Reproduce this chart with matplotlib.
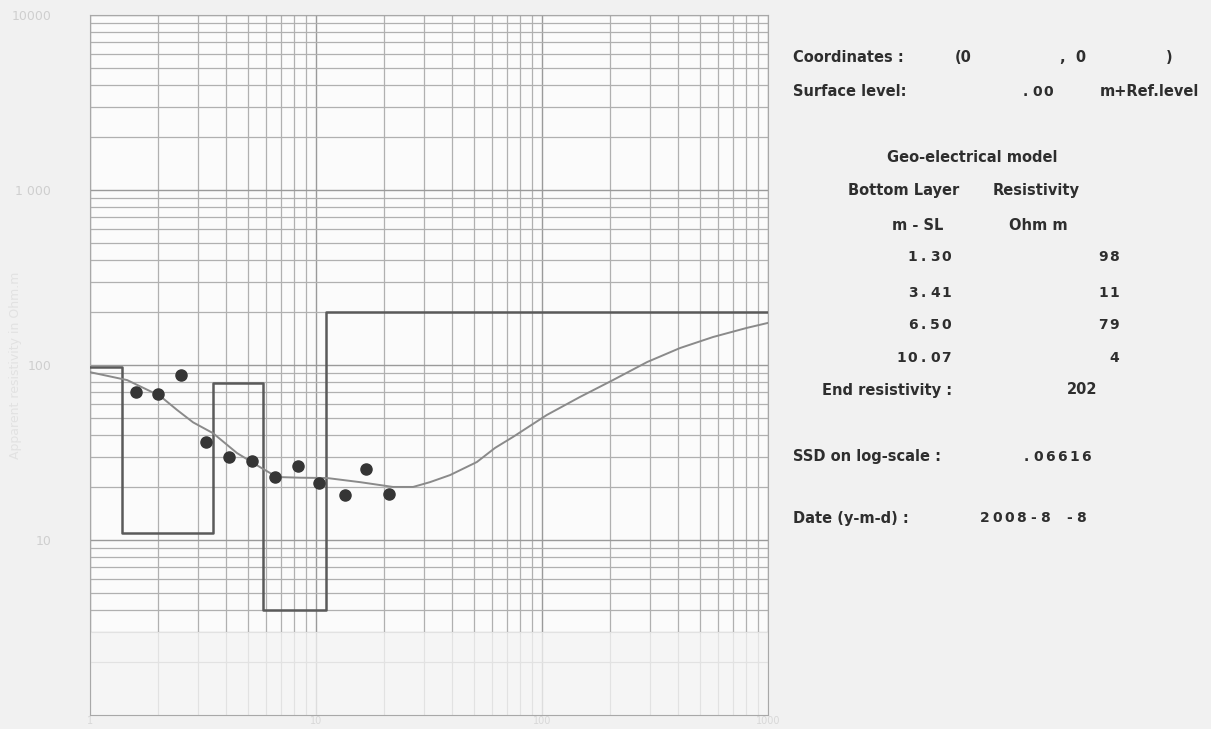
#VES sounding curve with layered model and model table at the right

import matplotlib
matplotlib.use("Agg")
import matplotlib.pyplot as plt

W, H = 1211, 729

# measured apparent resistivity (AB/2 in m, rho_a in Ohm.m)
ab2 = [1.6, 2.0, 2.52, 3.25, 4.13, 5.19, 6.56, 8.32, 10.3, 13.5, 16.6, 21.0]
rho_meas = [70.4, 68.1, 88.1, 36.5, 29.7, 28.2, 22.9, 26.6, 21.2, 18.1, 25.4, 18.4]

# calculated model curve
curve_x = [1.0, 1.46, 2.04, 2.43, 2.86, 3.5, 4.47, 5.65, 6.72, 8.5, 11.2, 15.7,
           21.9, 26.9, 31.9, 39.2, 51.5, 62, 74.4, 105, 147, 206, 292, 408,
           571, 807, 1000]
curve_rho = [91, 82, 66.6, 55.3, 47, 40.8, 31.4, 26.1, 22.9, 22.7, 22.6, 21.4,
             20.1, 20.1, 21.4, 23.5, 27.9, 33.6, 38.8, 51.8, 65.6, 82, 104, 125,
             144.5, 163, 174]

# layered model: resistivities and boundaries as drawn on the plot
layer_rho = [98, 11, 79, 4, 202]
layer_bound_plot = [1.39, 3.5, 5.8, 11.1]

# table on the right
table_depth = ["1.30", "3.41", "6.50", "10.07"]
table_rho = ["98", "11", "79", "4"]
end_rho = "202"
ssd = ".06616"
date_str = "2008-8 -8"

fig = plt.figure(figsize=(W / 100, H / 100), dpi=100, facecolor="#f1f1f1")
ax = fig.add_axes([90 / W, 1 - 715 / H, (768 - 90) / W, 700 / H])
ax.set_facecolor("#fbfbfb")
ax.set_xscale("log")
ax.set_yscale("log")
ax.set_xlim(1, 1000)
ax.set_ylim(1, 10000)

ax.grid(True, which="major", color="#9a9a9a", lw=1.0)
ax.grid(True, which="minor", color="#b0b0b0", lw=0.9)
for s in ax.spines.values():
    s.set_color("#a8a8a8")

# faded lower band like the scan
ax.axhspan(1, 3, color="#f4f4f4", alpha=0.75, zorder=2.5, lw=0)

# step line of the model
sx = [1.0]
sy = [layer_rho[0]]
for b, r0, r1 in zip(layer_bound_plot, layer_rho[:-1], layer_rho[1:]):
    sx += [b, b]
    sy += [r0, r1]
sx.append(1000)
sy.append(layer_rho[-1])
ax.plot(sx, sy, color="#5a5a5a", lw=1.8, zorder=3)

ax.plot(curve_x, curve_rho, color="#8a8a8a", lw=1.4, zorder=3)
ax.plot(ab2, rho_meas, "o", color="#353535", ms=8, mec="#353535", zorder=4)

ax.set_xticks([1, 10, 100, 1000])
ax.set_xticklabels(["1", "10", "100", "1000"])
ax.set_yticks([10, 100, 1000, 10000])
ax.set_yticklabels(["10", "100", "1 000", "10000"])
ax.tick_params(which="both", length=0)
ax.tick_params(axis="y", colors="#cfcfcf", labelsize=9, pad=28)
ax.tick_params(axis="x", colors="#d8d8d8", labelsize=7, pad=1)
ax.set_ylabel("Apparent resistivity in Ohm.m", color="#e2e2e2", fontsize=9)
ax.yaxis.set_label_coords(-0.1, 0.5)


# helpers for the text panel (pixel coordinates)
def ptext(x, y, s, ha="left", **kw):
    fig.text(x / W, 1 - y / H, s, ha=ha, va="center", fontsize=10.5,
             fontweight="bold", color="#2e2e2e", **kw)


def spaced(x_right, y, s, pitch=11.3):
    # numbers in the original are printed with a wide fixed pitch
    for i, ch in enumerate(reversed(s)):
        cx = x_right - pitch * (i + 0.5)
        fig.text(cx / W, 1 - y / H, ch, ha="center", va="center", fontsize=10,
                 fontweight="bold", color="#2e2e2e")


ptext(793, 58, "Coordinates :")
ptext(955, 58, "(0")
ptext(1060, 58, ",  0")
ptext(1166, 58, ")")
ptext(793, 92, "Surface level:")
spaced(1020 + 3 * 11.3, 92, ".00")
ptext(1100, 92, "m+Ref.level")

ptext(972, 158, "Geo-electrical model", ha="center")
ptext(848, 190, "Bottom Layer")
ptext(993, 190, "Resistivity")
ptext(918, 225, "m - SL", ha="center")
ptext(1038, 225, "Ohm m", ha="center")

row_y = [257, 293, 325, 358]
for yy, d, r in zip(row_y, table_depth, table_rho):
    spaced(952, yy, d)
    spaced(1120, yy, r)

ptext(822, 390, "End resistivity :")
ptext(1097, 390, end_rho, ha="right")
ptext(793, 457, "SSD on log-scale :")
spaced(1020 + len(ssd) * 12, 457, ssd, pitch=12)
ptext(793, 518, "Date (y-m-d) :")
spaced(979 + len(date_str) * 12, 518, date_str, pitch=12)

plt.savefig("out.png", dpi=100, facecolor=fig.get_facecolor())
